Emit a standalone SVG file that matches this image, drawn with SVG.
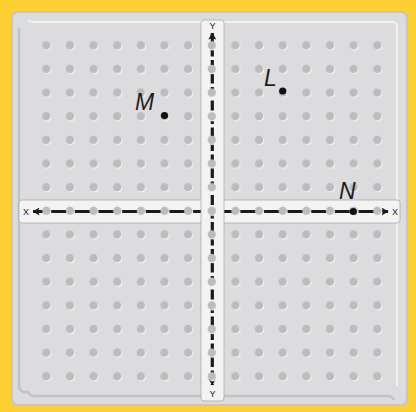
<svg xmlns="http://www.w3.org/2000/svg" width="416" height="412" viewBox="0 0 416 412">
<defs>
<style>
.lbl{font-family:"Liberation Sans",Arial,sans-serif;font-style:italic;font-size:23px;fill:#1e1e1e}
.ax{font-family:"Liberation Sans",Arial,sans-serif;font-size:9px;fill:#222;text-anchor:middle}
.strip{fill:#f3f3f3;stroke:#a9a9ab;stroke-width:0.8}
.axis{stroke:#1a1a1a;stroke-width:3.2;fill:none}
.pt{fill:#111}
.shade{stroke:#c2c2c5;stroke-width:2.5;fill:none}
.hl{stroke:#f1f1f2;stroke-width:2;fill:none}
</style>
<pattern id="dots" patternUnits="userSpaceOnUse" x="34.48" y="33.48" width="23.64" height="23.64">
<circle cx="12.7" cy="12.7" r="4.2" fill="#f6f6f6"/>
<circle cx="11.82" cy="11.82" r="4.2" fill="#bcbcbf"/>
</pattern>
<marker id="arr" viewBox="0 0 7 8" refX="6.5" refY="4" markerWidth="7" markerHeight="8" orient="auto-start-reverse" markerUnits="userSpaceOnUse">
<path d="M0,0 L7,4 L0,8 L1.5,4 z" fill="#1a1a1a"/>
</marker>
</defs>
<rect width="416" height="412" fill="#fcd033"/>
<g id="board">
<rect x="11" y="11" width="397" height="395" rx="6" fill="#c6c6c9"/>
<rect x="13" y="13" width="393" height="391" rx="5" fill="#dcdcde"/>
<path class="hl" d="M28,20 Q30,22 34,22 L392,22 Q396,22 397,26 L397,386"/>
<path class="shade" d="M19,28 L19,386 Q19,390 23,392 L28,392 Q30,396 34,396 L388,396 Q392,396 394,400"/>
<rect x="34.48" y="33.48" width="354.6" height="354.6" fill="url(#dots)"/>
</g>
<g id="x-axis">
<rect class="strip" x="19" y="200" width="381" height="23" rx="3"/>
<text class="ax" x="26" y="215">X</text>
<text class="ax" x="395" y="215">X</text>
</g>
<g id="connectors">
<line class="axis" x1="33" y1="211.5" x2="388" y2="211.5" marker-start="url(#arr)" marker-end="url(#arr)"/>
</g>
<g id="x-axis-dots">
<rect x="34.48" y="199" width="354.6" height="24" fill="url(#dots)"/>
</g>
<g id="y-axis">
<rect class="strip" x="201" y="20" width="23" height="381" rx="3"/>
<text class="ax" x="212.5" y="28.5">Y</text>
<text class="ax" x="212.5" y="397">Y</text>
<line class="axis" x1="212.3" y1="33" x2="212.3" y2="385" stroke-dasharray="10 3.5" marker-start="url(#arr)" marker-end="url(#arr)"/>
<rect x="200" y="33.48" width="24" height="354.6" fill="url(#dots)"/>
</g>
<g id="M">
<circle class="pt" cx="164.5" cy="115.5" r="3.6"/>
<text class="lbl" x="135" y="109.5">M</text>
</g>
<g id="L">
<circle class="pt" cx="282.7" cy="91" r="3.6"/>
<text class="lbl" x="264" y="85.5">L</text>
</g>
<g id="N">
<circle class="pt" cx="353.3" cy="211.5" r="3.6"/>
<text class="lbl" x="339" y="198.5">N</text>
</g>
</svg>
